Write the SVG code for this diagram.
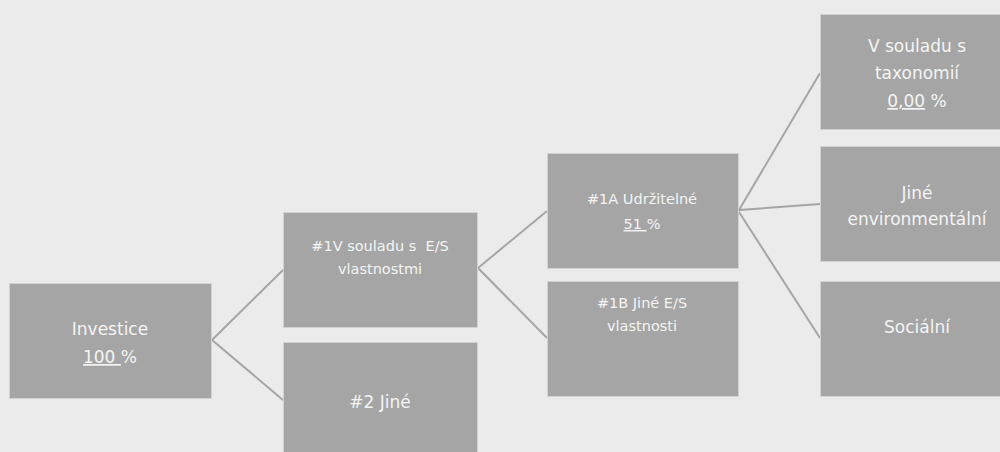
<svg xmlns="http://www.w3.org/2000/svg" width="1000" height="452" viewBox="0 0 1000 452">
<style>
.bg{fill:#ebebeb}
.box{fill:#a5a5a5;stroke:#d2d2d2;stroke-width:1}
.t{font-family:"DejaVu Sans","Liberation Sans",sans-serif;fill:#f4f4f4;text-anchor:middle;white-space:pre}
.l{font-size:17px}
.s{font-size:14.5px}
.u{text-decoration:underline}
.c{stroke:#a5a5a5;stroke-width:2;fill:none}
</style>
<rect class="bg" x="0" y="0" width="1000" height="452"/>
<g id="connectors">
<polyline class="c" points="283,270 212,340 283,400"/>
<polyline class="c" points="547,211 478,268 547,338"/>
<polyline class="c" points="820,73 739,210 820,204"/>
<line class="c" x1="739" y1="212" x2="820" y2="338"/>
</g>
<g id="investice">
<rect class="box" x="9.5" y="283.5" width="202" height="115"/>
<text class="t l" x="110" y="335">Investice</text>
<text class="t l" x="110" y="363"><tspan class="u">100 </tspan>%</text>
</g>
<g id="n1v">
<rect class="box" x="283.5" y="212.5" width="194" height="115"/>
<text class="t s" x="380" y="251">#1V souladu s  E/S</text>
<text class="t s" x="380" y="274">vlastnostmi</text>
</g>
<g id="n2">
<rect class="box" x="283.5" y="342.5" width="194" height="115"/>
<text class="t l" x="380" y="408">#2 Jiné</text>
</g>
<g id="n1a">
<rect class="box" x="547.5" y="153.5" width="191" height="115"/>
<text class="t s" x="642" y="204">#1A Udržitelné</text>
<text class="t s" x="642" y="229"><tspan class="u">51 </tspan>%</text>
</g>
<g id="n1b">
<rect class="box" x="547.5" y="281.5" width="191" height="115"/>
<text class="t s" x="642" y="308">#1B Jiné E/S</text>
<text class="t s" x="642" y="331">vlastnosti</text>
</g>
<g id="taxonomie">
<rect class="box" x="820.5" y="14.5" width="190" height="115"/>
<text class="t l" x="917" y="52">V souladu s</text>
<text class="t l" x="917" y="79">taxonomií</text>
<text class="t l" x="917" y="107"><tspan class="u">0,00</tspan> %</text>
</g>
<g id="jine-env">
<rect class="box" x="820.5" y="146.5" width="190" height="115"/>
<text class="t l" x="917" y="199">Jiné</text>
<text class="t l" x="917" y="225">environmentální</text>
</g>
<g id="socialni">
<rect class="box" x="820.5" y="281.5" width="190" height="115"/>
<text class="t l" x="917" y="333">Sociální</text>
</g>
</svg>
